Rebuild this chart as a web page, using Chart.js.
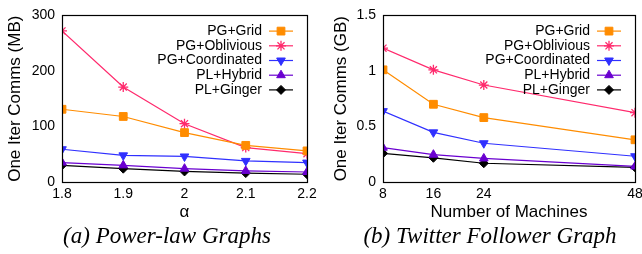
<!DOCTYPE html>
<html lang="en">
<head>
  <meta charset="UTF-8" />
  <title>One Iter Comms</title>
  <script src="https://cdn.jsdelivr.net/npm/chart.js@4.4.0/dist/chart.umd.min.js"></script>
  <style>
body { margin: 0; background: #fff; width: 642px; height: 254px; position: relative; overflow: hidden; }
.panel { position: absolute; top: 0; height: 224px; }
#panelA { left: 0; width: 320px; }
#panelB { left: 320px; width: 322px; }
.caption {
  position: absolute; top: 222px; line-height: 28px;
  font-family: "Liberation Serif", "DejaVu Serif", serif; font-style: italic;
  font-size: 23px; color: #000; white-space: nowrap;
  transform: translateX(-50%);
}
  </style>
</head>
<body>
  <div class="panel" id="panelA"><canvas id="chartA"></canvas></div>
  <div class="panel" id="panelB"><canvas id="chartB"></canvas></div>
  <div class="caption" style="left:167px">(a) Power-law Graphs</div>
  <div class="caption" style="left:490px">(b) Twitter Follower Graph</div>

  <script>
    // series names and look
    const seriesNames = ['PG+Grid', 'PG+Oblivious', 'PG+Coordinated', 'PL+Hybrid', 'PL+Ginger'];
    const seriesColors = ['#ff8c00', '#ff2a6d', '#3030ff', '#6a00d0', '#000000'];
    const seriesStyles = ['rect', 'star', 'triangle', 'triangle', 'rectRot'];
    const seriesRot = [0, 0, 180, 0, 0];
    const seriesRadius = [5.5, 5, 5, 5, 4.5];

    // (a) power-law graphs, MB
    const alphaVals = [1.8, 1.9, 2.0, 2.1, 2.2];
    const aGrid = [131, 118, 89, 66, 56];
    const aOblivious = [272, 171, 105, 62, 51];
    const aCoordinated = [59, 48, 46, 38, 35];
    const aHybrid = [35, 30, 24, 20, 18];
    const aGinger = [30, 24, 19, 16, 14];
    const aYTicks = [0, 100, 200, 300];

    // (b) twitter follower graph, GB
    const machines = [8, 16, 24, 48];
    const bGrid = [1.01, 0.70, 0.58, 0.38];
    const bOblivious = [1.205, 1.01, 0.873, 0.624];
    const bCoordinated = [0.638, 0.447, 0.349, 0.232];
    const bHybrid = [0.309, 0.246, 0.212, 0.14];
    const bGinger = [0.258, 0.218, 0.169, 0.132];
    const bYTicks = [0, 0.5, 1, 1.5];

    const font = "'Liberation Sans', Arial, sans-serif";

    // box around plot + gnuplot-like key in the top right corner
    const frameAndKey = {
      id: 'frameAndKey',
      afterDatasetsDraw(chart) {
        const {ctx, chartArea: a} = chart;
        ctx.save();
        ctx.strokeStyle = '#000';
        ctx.lineWidth = 1.2;
        ctx.strokeRect(Math.round(a.left) + 0.5, Math.round(a.top) + 0.5,
          Math.round(a.right - a.left), Math.round(a.bottom - a.top));

        ctx.font = '14px ' + font;
        ctx.textAlign = 'right';
        ctx.textBaseline = 'middle';
        chart.data.datasets.forEach((ds, i) => {
          const y = a.top + 15.7 + i * 14.7;
          ctx.fillStyle = '#000';
          ctx.fillText(ds.label, a.right - 45, y);
          ctx.strokeStyle = ds.borderColor;
          ctx.lineWidth = 1.2;
          ctx.beginPath();
          ctx.moveTo(a.right - 38, y);
          ctx.lineTo(a.right - 14, y);
          ctx.stroke();
          ctx.fillStyle = ds.pointBackgroundColor;
          ctx.strokeStyle = ds.pointBorderColor;
          ctx.lineWidth = ds.pointStyle === 'star' ? 1.3 : 1;
          Chart.helpers.drawPoint(ctx, {
            pointStyle: ds.pointStyle, radius: ds.pointRadius,
            rotation: ds.pointRotation, borderWidth: 1
          }, a.right - 26, y);
        });
        ctx.restore();
      }
    };

    function makeSets(xs, ys) {
      return ys.map((vals, i) => ({
        label: seriesNames[i],
        data: xs.map((x, j) => ({x: x, y: vals[j]})),
        borderColor: seriesColors[i],
        backgroundColor: seriesColors[i],
        borderWidth: 1.2,
        pointStyle: seriesStyles[i],
        pointRotation: seriesRot[i],
        pointRadius: seriesRadius[i],
        pointBackgroundColor: seriesColors[i],
        pointBorderColor: seriesColors[i],
        pointBorderWidth: seriesStyles[i] === 'star' ? 1.3 : 1
      }));
    }

    function makeChart(id, xs, ys, xTicks, yTicks, yMax, xTitle, yTitle, padRight, yLabel, yTitlePad) {
      return new Chart(document.getElementById(id), {
        type: 'line',
        data: { datasets: makeSets(xs, ys) },
        plugins: [frameAndKey],
        options: {
          responsive: true, maintainAspectRatio: false, animation: false,
          layout: { padding: { top: 7, right: padRight, left: 0, bottom: 0 } },
          plugins: { legend: { display: false }, tooltip: { enabled: false } },
          scales: {
            x: {
              type: 'linear', min: xTicks[0], max: xTicks[xTicks.length - 1],
              grid: { display: false, drawTicks: false }, border: { display: false },
              afterBuildTicks: s => { s.ticks = xTicks.map(v => ({value: v})); },
              afterFit: s => { s.height = 42; s.paddingLeft = 0; s.paddingRight = 0; },
              ticks: { color: '#000', font: { family: font, size: 14 }, padding: 4,
                       maxRotation: 0, autoSkip: false, callback: v => String(v) },
              title: { display: true, text: xTitle, color: '#000',
                       font: { family: font, size: 17 }, padding: { top: 0, bottom: 1 } }
            },
            y: {
              min: 0, max: yMax,
              grid: { display: false, drawTicks: false }, border: { display: false },
              afterBuildTicks: s => { s.ticks = yTicks.map(v => ({value: v})); },
              afterFit: s => { s.width = yLabel; },
              ticks: { color: '#000', font: { family: font, size: 14 }, padding: 7,
                       callback: v => String(v) },
              title: { display: true, text: yTitle, color: '#000',
                       font: { family: font, size: 17 }, padding: { top: yTitlePad, bottom: 0 } }
            }
          }
        }
      });
    }

    makeChart('chartA', alphaVals, [aGrid, aOblivious, aCoordinated, aHybrid, aGinger],
      alphaVals, aYTicks, 300, 'α', 'One Iter Comms (MB)', 13, 62, 5);
    makeChart('chartB', machines, [bGrid, bOblivious, bCoordinated, bHybrid, bGinger],
      machines, bYTicks, 1.5, 'Number of Machines', 'One Iter Comms (GB)', 7, 63, 11);
  </script>
</body>
</html>
